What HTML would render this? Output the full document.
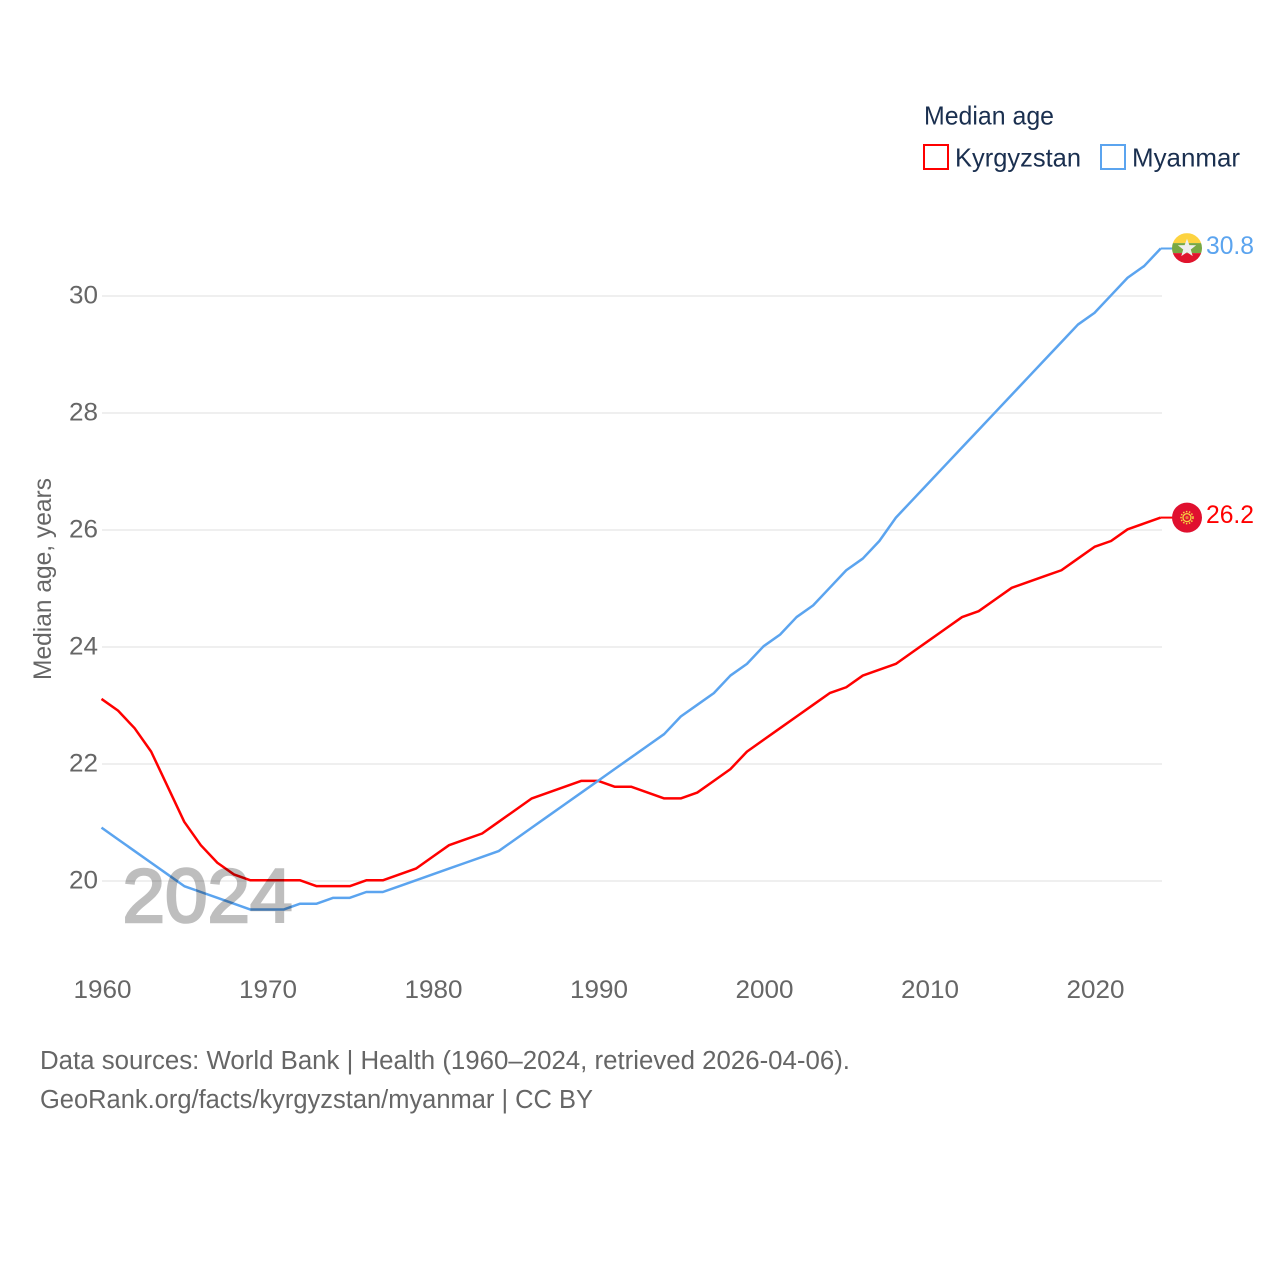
<!DOCTYPE html>
<html>
<head>
<meta charset="utf-8">
<title>Median age: Kyrgyzstan and Myanmar</title>
<style>
html,body{margin:0;padding:0;background:#fff;}
svg{display:block;}
text{font-family:"Liberation Sans",sans-serif;}
</style>
</head>
<body>
<svg id="chart" xmlns="http://www.w3.org/2000/svg" width="1280" height="1280" viewBox="0 0 1280 1280">
  <rect width="1280" height="1280" fill="#fff"/>
  <g id="grid"></g>
  <g id="yticks"></g>
  <g id="xticks"></g>
  <text transform="translate(51 680) rotate(-90)" font-size="25" fill="#666" textLength="202" lengthAdjust="spacingAndGlyphs">Median age, years</text>
  <g id="series"></g>
  <g opacity="0.25">
    <text x="122.5" y="922" font-size="76" fill="#000" stroke="#000" stroke-width="2.6" textLength="170" lengthAdjust="spacingAndGlyphs">2024</text>
  </g>

  <g>
    <text x="924" y="124.5" font-size="26" fill="#1a2f4f" textLength="130" lengthAdjust="spacingAndGlyphs">Median age</text>
    <rect x="924" y="145" width="24" height="24" fill="none" stroke="#ff0000" stroke-width="2"/>
    <text x="955" y="166.5" font-size="26" fill="#1a2f4f" textLength="126" lengthAdjust="spacingAndGlyphs">Kyrgyzstan</text>
    <rect x="1101" y="145" width="24" height="24" fill="none" stroke="#5ba4ef" stroke-width="2"/>
    <text x="1132" y="166.5" font-size="26" fill="#1a2f4f" textLength="108" lengthAdjust="spacingAndGlyphs">Myanmar</text>
  </g>

  <g id="end-markers"></g>

  <text x="40" y="1069" font-size="25.5" fill="#666" textLength="810" lengthAdjust="spacingAndGlyphs">Data sources: World Bank | Health (1960–2024, retrieved 2026-04-06).</text>
  <text x="40" y="1108" font-size="25.5" fill="#666" textLength="553" lengthAdjust="spacingAndGlyphs">GeoRank.org/facts/kyrgyzstan/myanmar | CC BY</text>
</svg>

<script>
const years = [1960,1961,1962,1963,1964,1965,1966,1967,1968,1969,1970,1971,1972,1973,1974,1975,1976,1977,1978,1979,1980,1981,1982,1983,1984,1985,1986,1987,1988,1989,1990,1991,1992,1993,1994,1995,1996,1997,1998,1999,2000,2001,2002,2003,2004,2005,2006,2007,2008,2009,2010,2011,2012,2013,2014,2015,2016,2017,2018,2019,2020,2021,2022,2023,2024];
const kyrgyzstan = [23.1,22.9,22.6,22.2,21.6,21.0,20.6,20.3,20.1,20.0,20.0,20.0,20.0,19.9,19.9,19.9,20.0,20.0,20.1,20.2,20.4,20.6,20.7,20.8,21.0,21.2,21.4,21.5,21.6,21.7,21.7,21.6,21.6,21.5,21.4,21.4,21.5,21.7,21.9,22.2,22.4,22.6,22.8,23.0,23.2,23.3,23.5,23.6,23.7,23.9,24.1,24.3,24.5,24.6,24.8,25.0,25.1,25.2,25.3,25.5,25.7,25.8,26.0,26.1,26.2];
const myanmar = [20.9,20.7,20.5,20.3,20.1,19.9,19.8,19.7,19.6,19.5,19.5,19.5,19.6,19.6,19.7,19.7,19.8,19.8,19.9,20.0,20.1,20.2,20.3,20.4,20.5,20.7,20.9,21.1,21.3,21.5,21.7,21.9,22.1,22.3,22.5,22.8,23.0,23.2,23.5,23.7,24.0,24.2,24.5,24.7,25.0,25.3,25.5,25.8,26.2,26.5,26.8,27.1,27.4,27.7,28.0,28.3,28.6,28.9,29.2,29.5,29.7,30.0,30.3,30.5,30.8];
const yTickValues = [20,22,24,26,28,30];
const xTickValues = [1960,1970,1980,1990,2000,2010,2020];

const NS = 'http://www.w3.org/2000/svg';
const xScale = v => 101.5 + (v - 1960) * 16.55;
const yScale = v => 880.3 - (v - 20) * 58.5;
function make(tag, attrs, parent) {
  const el = document.createElementNS(NS, tag);
  for (const k in attrs) el.setAttribute(k, attrs[k]);
  parent.appendChild(el);
  return el;
}
const gridG = document.getElementById('grid');
const yG = document.getElementById('yticks');
const xG = document.getElementById('xticks');
const seriesG = document.getElementById('series');
const endG = document.getElementById('end-markers');

yTickValues.forEach(v => {
  const gy = yScale(v) + 0.7;
  const line = make('line', {x1: 102, x2: 1162, y1: gy, y2: gy, stroke: '#efefef', 'stroke-width': 2}, gridG);
  
  
  const t = make('text', {x: 98, y: gy + 7.5, 'font-size': 25, fill: '#666', 'text-anchor': 'end', textLength: 29, lengthAdjust: 'spacingAndGlyphs'}, yG);
  
  
  t.textContent = v;
});
xTickValues.forEach(v => {
  const t = make('text', {x: xScale(v) + 1, y: 998, 'font-size': 25, fill: '#666', 'text-anchor': 'middle', textLength: 58, lengthAdjust: 'spacingAndGlyphs'}, xG);
  
  
  t.textContent = v;
});
function drawSeries(values, color, name) {
  const d = values.map((v, i) => (i ? 'L' : 'M') + xScale(years[i]).toFixed(2) + ' ' + yScale(v).toFixed(2)).join(' ');
  const p = make('path', {d: d, fill: 'none', stroke: color, 'stroke-width': 2.5, 'stroke-linejoin': 'round'}, seriesG);
  
  
  const lastY = yScale(values[values.length - 1]);
  const lastX = xScale(years[years.length - 1]);
  const c = make('line', {x1: lastX, x2: 1174, y1: lastY, y2: lastY, stroke: color, 'stroke-width': 2}, seriesG);
  
  
  const lab = make('text', {x: 1206, y: lastY + 5.5, 'font-size': 25, fill: color, textLength: 48, lengthAdjust: 'spacingAndGlyphs'}, endG);
  
  
  lab.textContent = values[values.length - 1].toFixed(1);
  return lastY;
}
const kyY = drawSeries(kyrgyzstan, '#ff0000', 'kyrgyzstan');
const myY = drawSeries(myanmar, '#5ba4ef', 'myanmar');

// Myanmar flag
const mf = make('g', {transform: 'translate(1187 ' + (myY - 0.4) + ')'}, endG);


const cp = make('clipPath', {id: 'flagClip'}, mf);
make('circle', {r: 15}, cp);
const bands = make('g', {'clip-path': 'url(#flagClip)'}, mf);
make('rect', {x: -15, y: -15, width: 30, height: 10, fill: '#fdd340'}, bands);
make('rect', {x: -15, y: -5, width: 30, height: 10, fill: '#78a843'}, bands);
make('rect', {x: -15, y: 5, width: 30, height: 10, fill: '#e0142d'}, bands);
make('polygon', {points: '0,-9.5 2.4,-3 9.2,-2.8 3.8,1.4 5.7,8 0,4.1 -5.7,8 -3.8,1.4 -9.2,-2.8 -2.4,-3', fill: '#eeeeee'}, bands);

// Kyrgyzstan flag
const kf = make('g', {transform: 'translate(1187 ' + kyY + ')'}, endG);


make('circle', {r: 15, fill: '#e0102f'}, kf);
make('circle', {r: 4, fill: 'none', stroke: '#f5d742', 'stroke-width': 1.3}, kf);
make('circle', {r: 6, fill: 'none', stroke: '#f5d742', 'stroke-width': 1.5, 'stroke-dasharray': '1.5 1.5'}, kf);
make('circle', {r: 1.6, fill: '#e9803a'}, kf);
</script>
</body>
</html>
